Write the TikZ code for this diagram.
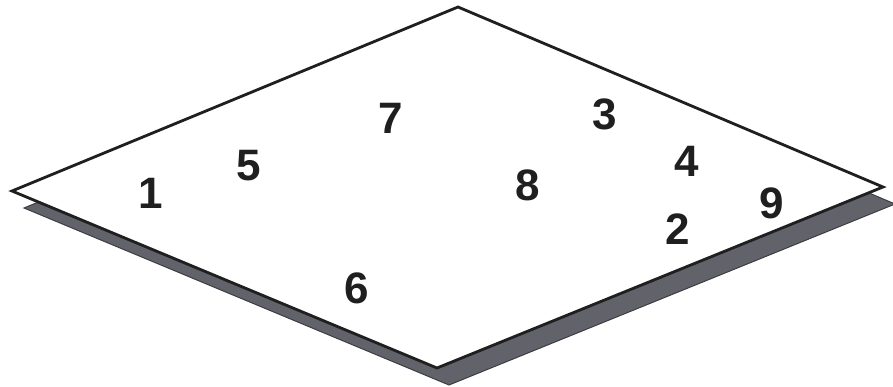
\documentclass[tikz,border=0pt]{standalone}
\usepackage{fontspec}
\setmainfont{Liberation Sans}
\begin{document}
\begin{tikzpicture}[x=1pt,y=-1pt,
  num/.style={font=\fontsize{44}{44}\selectfont\bfseries, text=black!88, inner sep=0pt},
  plate/.style={draw=black!88, line width=2.8pt, fill=white, line join=miter},
  shade/.style={fill={rgb,255:red,98;green,98;blue,106}, draw={rgb,255:red,60;green,60;blue,68}, line width=1pt}]
\useasboundingbox (0,0) rectangle (893,387);
\coordinate (L) at (12,191);
\coordinate (T) at (458,7);
\coordinate (R) at (883,187);
\coordinate (B) at (437,368);
\begin{scope}
\clip (0,0) rectangle (893,387);
\path[shade, shift={(12,17)}] (12,191) -- (458,7) -- (883,187) -- (437,368) -- cycle;
\end{scope}
\path[plate] (L) -- (T) -- (R) -- (B) -- cycle;
\node[num] (n1) at (151,193) {1};
\node[num] (n5) at (249,166) {5};
\node[num] (n7) at (391,118) {7};
\node[num] (n3) at (605,114) {3};
\node[num] (n4) at (687,161) {4};
\node[num] (n8) at (528,185) {8};
\node[num] (n9) at (772,203) {9};
\node[num] (n2) at (678,229) {2};
\node[num] (n6) at (357,288) {6};
\end{tikzpicture}
\end{document}
